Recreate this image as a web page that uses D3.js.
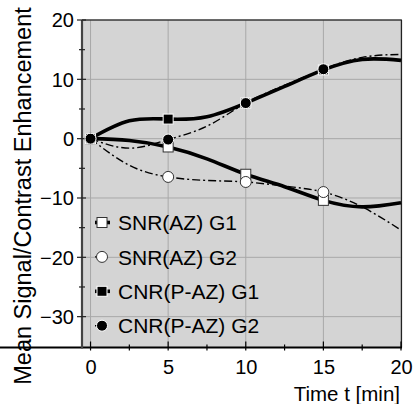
<!DOCTYPE html>
<html>
<head>
<meta charset="utf-8">
<script src="https://cdn.jsdelivr.net/npm/d3@7"></script>
<style>
  body { margin: 0; background: #fff; }
  text { font-family: "Liberation Sans", Arial, sans-serif; fill: #000; }
</style>
</head>
<body>
<script>
var times = [0, 2.5, 5, 7.5, 10, 12.5, 15, 17.5, 20];
var snrG1 = [0, -0.3, -1.4, -3.4, -6.0, -8.1, -10.4, -11.5, -10.8];
var snrG2 = [0, -4.5, -6.45, -7.05, -7.3, -8.0, -9.0, -11.5, -15.4];
var cnrG1 = [0, 3.0, 3.3, 3.7, 6.0, 8.8, 11.6, 13.35, 13.2];
var cnrG2 = [0, -1.6, -0.15, 2.1, 6.0, 9.0, 11.7, 13.7, 14.2];
var markerTimes = [0, 5, 10, 15]; // symbols only drawn at these times
var seriesNames = ["SNR(AZ) G1", "SNR(AZ) G2", "CNR(P-AZ) G1", "CNR(P-AZ) G2"];
var xTicks = [0, 5, 10, 15, 20];
var yTicks = [-30, -20, -10, 0, 10, 20];

var w = 413;
var h = 404;

var svg = d3.select("body").append("svg")
    .attr("width", w)
    .attr("height", h);

var x = d3.scaleLinear().domain([-0.55, 20]).range([82, 401]);
var y = d3.scaleLinear().domain([-35.2, 20]).range([347.5, 20]);

// plot background
svg.append("rect")
    .attr("x", x(-0.55)).attr("y", y(20))
    .attr("width", x(20) - x(-0.55)).attr("height", y(-35.2) - y(20))
    .attr("fill", "#d4d4d4");

// grid lines
svg.selectAll(".gx").data(xTicks).enter().append("line")
    .attr("x1", function(d) { return x(d); }).attr("x2", function(d) { return x(d); })
    .attr("y1", y(20)).attr("y2", y(-35.2))
    .attr("stroke", "#a8a8a8").attr("stroke-width", 1);
svg.selectAll(".gy").data(yTicks).enter().append("line")
    .attr("x1", x(-0.55)).attr("x2", x(20))
    .attr("y1", function(d) { return y(d); }).attr("y2", function(d) { return y(d); })
    .attr("stroke", "#a8a8a8").attr("stroke-width", 1);

// frame: thin top/right, thick left/bottom
svg.append("line").attr("x1", x(-0.55)).attr("x2", x(20) + 1).attr("y1", y(20)).attr("y2", y(20))
    .attr("stroke", "#000").attr("stroke-width", 1.2);
svg.append("line").attr("x1", x(20) + 0.5).attr("x2", x(20) + 0.5).attr("y1", y(20)).attr("y2", y(-35.2))
    .attr("stroke", "#222").attr("stroke-width", 1.2);

// axes
var xAxis = svg.append("g").attr("transform", "translate(0," + y(-35.2) + ")")
    .call(d3.axisBottom(x).tickValues(xTicks).tickSize(0).tickPadding(12));
var yAxis = svg.append("g").attr("transform", "translate(" + x(-0.55) + ",0)")
    .call(d3.axisLeft(y).tickValues(yTicks).tickSize(0).tickPadding(8));

xAxis.select(".domain").attr("stroke", "#000").attr("stroke-width", 2.2)
    .attr("d", "M-2,0H" + (x(20) + 1));
yAxis.select(".domain").attr("stroke", "#444").attr("stroke-width", 2.2)
    .attr("d", "M0," + y(20) + "V" + (y(-35.2) + 1));
xAxis.selectAll("text").attr("font-size", 20).attr("font-family", "Liberation Sans, Arial, sans-serif").attr("fill", "#000");
yAxis.selectAll("text").attr("font-size", 20).attr("font-family", "Liberation Sans, Arial, sans-serif").attr("fill", "#000").attr("dy", "0.34em");

// tick marks (major + minor)
var xMinor = d3.range(2.5, 20, 5);
var yMinor = d3.range(-25, 20, 10);
xAxis.selectAll(".tmaj").data(xTicks).enter().append("line")
    .attr("x1", function(d) { return x(d); }).attr("x2", function(d) { return x(d); })
    .attr("y1", -6).attr("y2", 3).attr("stroke", "#000").attr("stroke-width", 1.2);
xAxis.selectAll(".tmin").data(xMinor).enter().append("line")
    .attr("x1", function(d) { return x(d); }).attr("x2", function(d) { return x(d); })
    .attr("y1", -3).attr("y2", 3).attr("stroke", "#000").attr("stroke-width", 1.2);
yAxis.selectAll(".tmaj").data(yTicks).enter().append("line")
    .attr("x1", -5).attr("x2", 4)
    .attr("y1", function(d) { return y(d); }).attr("y2", function(d) { return y(d); })
    .attr("stroke", "#222").attr("stroke-width", 1.2);
yAxis.selectAll(".tmin").data(yMinor).enter().append("line")
    .attr("x1", -3).attr("x2", 3)
    .attr("y1", function(d) { return y(d); }).attr("y2", function(d) { return y(d); })
    .attr("stroke", "#222").attr("stroke-width", 1.2);

// axis titles
svg.append("text")
    .attr("x", 400).attr("y", 401)
    .attr("text-anchor", "end")
    .attr("font-size", 20.5)
    .text("Time t [min]");
svg.append("text")
    .attr("transform", "translate(31,196) rotate(-90)")
    .attr("text-anchor", "middle")
    .attr("font-size", 23.5)
    .text("Mean Signal/Contrast Enhancement");

// series
var series = [
  { name: seriesNames[0], values: snrG1, solid: true,  shape: "square", filled: false },
  { name: seriesNames[1], values: snrG2, solid: false, shape: "circle", filled: false },
  { name: seriesNames[2], values: cnrG1, solid: true,  shape: "square", filled: true },
  { name: seriesNames[3], values: cnrG2, solid: false, shape: "circle", filled: true }
];

var line = d3.line()
    .x(function(d) { return x(d[0]); })
    .y(function(d) { return y(d[1]); })
    .curve(d3.curveNatural);

function styleLine(sel, s) {
  sel.attr("fill", "none").attr("stroke", "#000")
     .attr("stroke-width", s.solid ? 3.6 : 1.4)
     .attr("stroke-dasharray", s.solid ? null : "8,3,2,3");
}

function drawMarker(g, s, cx, cy) {
  if (s.shape === "square") {
    g.append("rect")
        .attr("x", cx - 5).attr("y", cy - 5).attr("width", 10).attr("height", 10)
        .attr("fill", s.filled ? "#000" : "#fff")
        .attr("stroke", s.filled ? "#fff" : "#333").attr("stroke-width", 1);
  } else {
    g.append("circle")
        .attr("cx", cx).attr("cy", cy).attr("r", 5.5)
        .attr("fill", s.filled ? "#000" : "#fff")
        .attr("stroke", s.filled ? "#fff" : "#333").attr("stroke-width", 1);
  }
}

series.forEach(function(s) {
  var pts = times.map(function(t, i) { return [t, s.values[i]]; });
  svg.append("path").datum(pts).attr("d", line).call(styleLine, s);
});
series.forEach(function(s) {
  var g = svg.append("g");
  times.forEach(function(t, i) {
    if (markerTimes.indexOf(t) >= 0) drawMarker(g, s, x(t), y(s.values[i]));
  });
});

// legend
var legend = svg.append("g");
series.forEach(function(s, i) {
  var ly = 222.5 + i * 34.4;
  var row = legend.append("g");
  row.append("line").attr("x1", 95).attr("x2", 110).attr("y1", ly).attr("y2", ly)
      .call(styleLine, s).attr("stroke-dasharray", s.solid ? null : "2,3");
  drawMarker(row, s, 102, ly);
  row.append("text")
      .attr("x", 118).attr("y", ly + 7.6)
      .attr("font-size", 21)
      .text(s.name);
});
</script>
</body>
</html>
